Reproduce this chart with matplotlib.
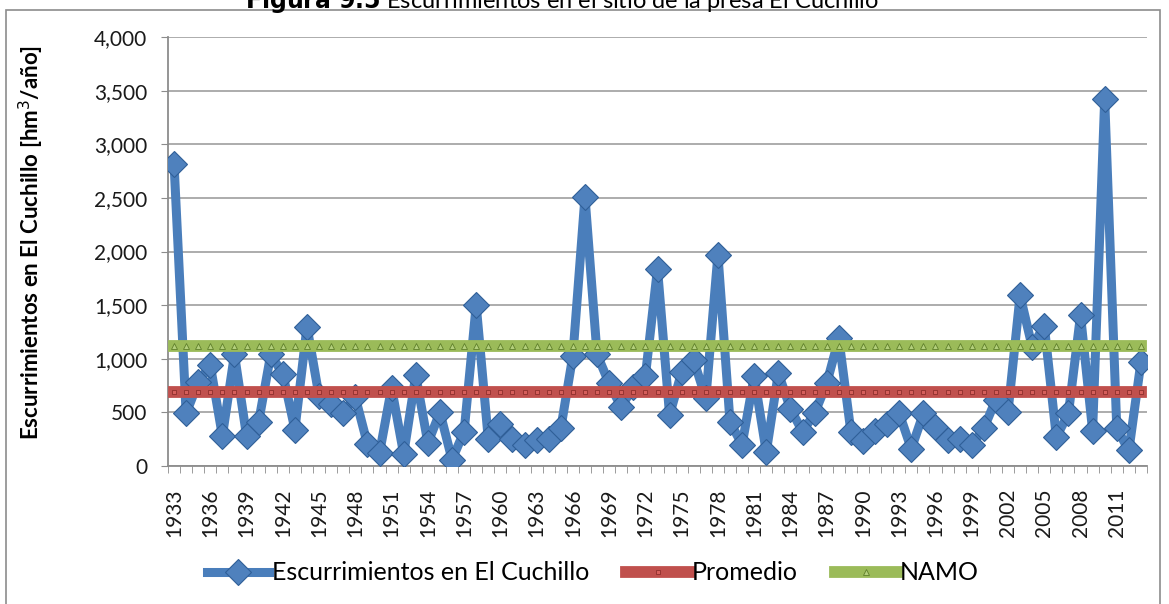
import numpy as np
import matplotlib.pyplot as plt
from matplotlib.patches import Rectangle

plt.rcParams['font.family'] = ['Lato', 'DejaVu Sans']

# annual runoff at the dam site, hm3/year
years = list(range(1933, 2014))
escurrimientos = [2820, 490, 780, 940, 280, 1040, 280,           # 1933-1939
                  410, 1040, 860, 340, 1300, 650, 575, 495, 640, 205,   # 1940-1949
                  120, 730, 110, 845, 215, 500, 60, 320, 1500, 250,     # 1950-1959
                  395, 255, 200, 240, 255, 350, 1030, 2510, 1040, 770,  # 1960-1969
                  550, 735, 840, 1840, 475, 875, 985, 630, 1970, 410,   # 1970-1979
                  200, 835, 130, 865, 535, 320, 490, 770, 1190, 320,    # 1980-1989
                  235, 330, 395, 490, 160, 490, 365, 240, 255, 195,     # 1990-1999
                  350, 620, 505, 1590, 1110, 1310, 270, 490, 1405, 330, # 2000-2009
                  3420, 350, 145, 970]                                  # 2010-2013
promedio = 690
namo = 1123

yticks = [0, 500, 1000, 1500, 2000, 2500, 3000, 3500, 4000]

x = np.arange(len(years))
prom_serie = [promedio] * len(years)
namo_serie = [namo] * len(years)

W, H = 1169, 604
fig = plt.figure(figsize=(W / 100, H / 100), dpi=100)
ax = fig.add_axes([168 / W, 1 - 466 / H, (1147 - 168) / W, (466 - 37) / H])

# outer chart border
fig.patches.append(Rectangle((6 / W, -0.02), (1160 - 6) / W, 1 - 10 / H + 0.02,
                             transform=fig.transFigure, fill=False,
                             edgecolor='#8C8C8C', lw=1.2))

ax.plot(x, escurrimientos, color='#4A7EBB', lw=6.5, solid_joinstyle='round',
        marker='D', ms=13, mfc='#4F81BD', mec='#2F5F98', mew=0.8,
        label='Escurrimientos en El Cuchillo', zorder=3)
ax.plot(x, prom_serie, color='#C0504D', lw=8.5, marker='s', ms=3.5,
        mfc='#D65F5B', mec='#8E2F2C', mew=0.6, label='Promedio', zorder=4)
ax.plot(x, namo_serie, color='#9BBB59', lw=8.5, marker='^', ms=4.5,
        mfc='#B3CF7C', mec='#5F7F2A', mew=0.6, label='NAMO', zorder=5)

ax.set_xlim(-0.5, len(years) - 0.5)
ax.set_ylim(0, 4000)
ax.set_yticks(yticks)
ax.set_yticklabels([f'{v:,}' for v in yticks], fontsize=15, color='#1A1A1A')
ax.set_xticks(x[::3])
ax.set_xticklabels([str(y) for y in years[::3]], rotation=90, fontsize=15,
                   color='#1A1A1A')
ax.set_xticks(np.arange(-0.5, len(years), 1), minor=True)
ax.tick_params(axis='x', which='major', length=0, pad=16)
ax.tick_params(axis='x', which='minor', length=5, color='#8C8C8C')
ax.tick_params(axis='y', length=5, color='#8C8C8C', pad=10)

ax.yaxis.grid(True, color='#A6A6A6', lw=1.3)
ax.set_axisbelow(True)
for s in ['top', 'right']:
    ax.spines[s].set_visible(False)
for s in ['left', 'bottom']:
    ax.spines[s].set_color('#8C8C8C')
    ax.spines[s].set_linewidth(1.3)

ax.set_ylabel('Escurrimientos en El Cuchillo [hm$^3$/año]', fontsize=16,
              fontweight='bold')
ax.yaxis.set_label_coords(-0.125, 0.52)

# title is clipped at the top of the picture
fig.text(0.481, 1 - 8 / H, r'$\bf{Figura\ 9.5}$ Escurrimientos en el sitio de la presa El Cuchillo',
         ha='center', va='baseline', fontsize=17)

fig.legend(loc='center', bbox_to_anchor=(0.507, 1 - 573 / H), ncol=3,
           frameon=False, fontsize=18, numpoints=1, handlelength=2.5,
           handletextpad=0.1, columnspacing=1.5)

fig.savefig('out.png', dpi=100)
